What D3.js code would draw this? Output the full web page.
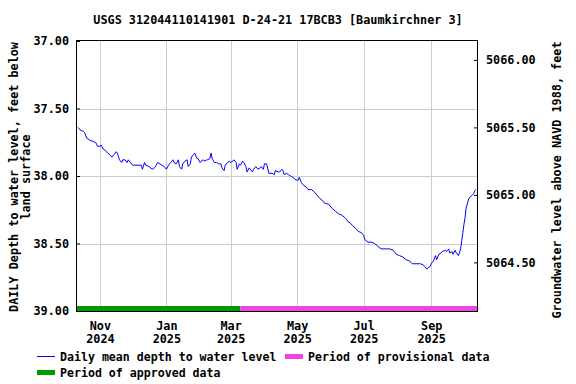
<!DOCTYPE html>
<html>
<head>
<meta charset="utf-8">
<script src="https://cdn.jsdelivr.net/npm/d3@7"></script>
<style>
  body { margin: 0; background: #fff; }
  svg { display: block; }
  text { font-family: "DejaVu Sans Mono", monospace; font-weight: bold; fill: #000; }
</style>
</head>
<body>
<svg width="576" height="384"></svg>
<script>
var title = "USGS 312044110141901 D-24-21 17BCB3 [Baumkirchner 3]";

// daily mean depth to water, feet below land surface
var dates = [
  "2024-10-12","2024-10-14","2024-10-17","2024-10-18","2024-10-20","2024-10-22","2024-10-24","2024-10-25","2024-10-27","2024-10-28",
  "2024-10-30","2024-11-01","2024-11-02","2024-11-04","2024-11-06","2024-11-08","2024-11-10","2024-11-12","2024-11-14","2024-11-16",
  "2024-11-17","2024-11-19","2024-11-21","2024-11-22","2024-11-24","2024-11-26","2024-11-27","2024-11-29","2024-12-01","2024-12-04",
  "2024-12-09","2024-12-10","2024-12-12","2024-12-13","2024-12-16","2024-12-19","2024-12-21","2024-12-22","2024-12-24","2024-12-26",
  "2024-12-28","2024-12-30","2025-01-01","2025-01-03","2025-01-05","2025-01-07","2025-01-08","2025-01-10","2025-01-12","2025-01-13",
  "2025-01-15","2025-01-16","2025-01-18","2025-01-20","2025-01-21","2025-01-23","2025-01-24","2025-01-26","2025-01-27","2025-01-29",
  "2025-01-30","2025-02-01","2025-02-02","2025-02-04","2025-02-05","2025-02-07","2025-02-08","2025-02-10","2025-02-11","2025-02-12",
  "2025-02-14","2025-02-16","2025-02-18","2025-02-20","2025-02-21","2025-02-23","2025-02-24","2025-02-26","2025-02-28","2025-03-01",
  "2025-03-03","2025-03-04","2025-03-06","2025-03-07","2025-03-09","2025-03-10","2025-03-12","2025-03-13","2025-03-15","2025-03-16",
  "2025-03-18","2025-03-19","2025-03-21","2025-03-22","2025-03-24","2025-03-26","2025-03-28","2025-03-29","2025-03-31","2025-04-01",
  "2025-04-03","2025-04-05","2025-04-08","2025-04-10","2025-04-11","2025-04-14","2025-04-15","2025-04-17","2025-04-18","2025-04-19",
  "2025-04-21","2025-04-23","2025-04-25","2025-04-27","2025-04-30","2025-05-02","2025-05-03","2025-05-05","2025-05-07","2025-05-09",
  "2025-05-11","2025-05-14","2025-05-17","2025-05-19","2025-05-21","2025-05-24","2025-05-26","2025-05-30","2025-06-02","2025-06-05",
  "2025-06-08","2025-06-11","2025-06-14","2025-06-17","2025-06-19","2025-06-21","2025-06-24","2025-06-26","2025-06-29","2025-07-01",
  "2025-07-02","2025-07-05","2025-07-08","2025-07-11","2025-07-14","2025-07-17","2025-07-22","2025-07-25","2025-07-28","2025-07-31",
  "2025-08-03","2025-08-06","2025-08-09","2025-08-12","2025-08-15","2025-08-19","2025-08-22","2025-08-25","2025-08-26","2025-08-28",
  "2025-08-29","2025-08-31","2025-09-01","2025-09-03","2025-09-05","2025-09-06","2025-09-08","2025-09-10","2025-09-11","2025-09-14",
  "2025-09-15","2025-09-17","2025-09-18","2025-09-20","2025-09-21","2025-09-23","2025-09-24","2025-09-26","2025-09-28","2025-09-29",
  "2025-09-30","2025-10-01","2025-10-02","2025-10-03","2025-10-05","2025-10-06","2025-10-09","2025-10-10","2025-10-11","2025-10-12"
];
var depths = [
  37.64,37.66,37.67,37.68,37.72,37.73,37.74,37.74,37.75,37.75,
  37.78,37.78,37.77,37.80,37.81,37.83,37.84,37.86,37.84,37.82,
  37.83,37.88,37.90,37.88,37.88,37.90,37.88,37.90,37.92,37.92,
  37.92,37.95,37.90,37.92,37.93,37.95,37.94,37.93,37.90,37.91,
  37.92,37.93,37.95,37.92,37.90,37.88,37.90,37.91,37.88,37.93,
  37.95,37.91,37.89,37.88,37.93,37.91,37.86,37.84,37.83,37.87,
  37.87,37.90,37.89,37.88,37.89,37.88,37.88,37.87,37.83,37.87,
  37.90,37.90,37.91,37.91,37.94,37.96,37.92,37.90,37.89,37.90,
  37.89,37.88,37.90,37.95,37.91,37.92,37.89,37.90,37.93,37.97,
  37.94,37.95,37.97,37.95,37.93,37.95,37.94,37.93,37.95,37.91,
  37.91,37.98,37.98,37.99,37.96,37.97,37.97,37.95,37.96,37.99,
  37.98,37.99,38.00,38.01,38.03,38.03,38.01,38.05,38.07,38.08,
  38.10,38.10,38.12,38.14,38.16,38.18,38.20,38.21,38.24,38.26,
  38.28,38.29,38.31,38.34,38.35,38.37,38.39,38.41,38.42,38.44,
  38.47,38.49,38.49,38.50,38.52,38.54,38.54,38.54,38.55,38.58,
  38.59,38.60,38.62,38.63,38.65,38.65,38.65,38.66,38.67,38.69,
  38.68,38.67,38.65,38.63,38.59,38.62,38.58,38.57,38.56,38.55,
  38.56,38.54,38.57,38.56,38.58,38.55,38.57,38.59,38.54,38.48,
  38.42,38.36,38.31,38.24,38.18,38.16,38.14,38.13,38.11,38.10
];

var xDomain = ["2024-10-11", "2025-10-13"];
var xTickDates = ["2024-11-01", "2025-01-01", "2025-03-01", "2025-05-01", "2025-07-01", "2025-09-01"];
var xTickMonths = ["Nov", "Jan", "Mar", "May", "Jul", "Sep"];
var xTickYears = ["2024", "2025", "2025", "2025", "2025", "2025"];
var depthTicks = [37.0, 37.5, 38.0, 38.5, 39.0];
var elevTicks = [5064.5, 5065.0, 5065.5, 5066.0];
var datumOffset = 5103.14; // land surface elevation, ft above NAVD 1988

var approvedEnd = "2025-03-10";
var periods = [
  {name: "approved", start: xDomain[0], end: approvedEnd, color: "#009900"},
  {name: "provisional", start: approvedEnd, end: xDomain[1], color: "#ee44e0"}
];

var svg = d3.select("svg"),
    margin = {top: 41, right: 99, bottom: 73, left: 77},
    width = svg.attr("width") - margin.left - margin.right,
    height = svg.attr("height") - margin.top - margin.bottom,
    g = svg.append("g").attr("transform", "translate(" + margin.left + "," + margin.top + ")");

var parseDate = d3.timeParse("%Y-%m-%d");

var data = dates.map(function(d, i) { return {date: parseDate(d), depth: depths[i]}; });

var x = d3.scaleTime().domain(xDomain.map(parseDate)).range([0, width]),
    y = d3.scaleLinear().domain([37, 39]).range([0, height]),
    y2 = d3.scaleLinear().domain([datumOffset - 37, datumOffset - 39]).range([0, height]);

// grid
g.append("g").selectAll("line")
  .data(xTickDates)
  .enter().append("line")
    .attr("x1", function(d) { return Math.round(x(parseDate(d))) + 0.5; })
    .attr("x2", function(d) { return Math.round(x(parseDate(d))) + 0.5; })
    .attr("y1", 0).attr("y2", height)
    .attr("stroke", "#cccccc");

g.append("g").selectAll("line")
  .data(depthTicks.slice(1, -1))
  .enter().append("line")
    .attr("x1", 0).attr("x2", width)
    .attr("y1", function(d) { return Math.round(y(d)) + 0.5; })
    .attr("y2", function(d) { return Math.round(y(d)) + 0.5; })
    .attr("stroke", "#cccccc");

// approval periods along the bottom
g.append("g").selectAll("rect")
  .data(periods)
  .enter().append("rect")
    .attr("x", function(d) { return x(parseDate(d.start)); })
    .attr("width", function(d) { return x(parseDate(d.end)) - x(parseDate(d.start)); })
    .attr("y", height - 5)
    .attr("height", 5)
    .attr("fill", function(d) { return d.color; });

var line = d3.line()
    .x(function(d) { return x(d.date); })
    .y(function(d) { return y(d.depth); });

g.append("path")
  .datum(data)
  .attr("d", line)
  .attr("fill", "none")
  .attr("stroke", "#0000ff")
  .attr("stroke-width", 1);

// frame
g.append("rect")
  .attr("x", -0.5).attr("y", -0.5)
  .attr("width", width + 1).attr("height", height + 1)
  .attr("fill", "none")
  .attr("stroke", "#000");

var leftAxis = g.append("g")
  .call(d3.axisLeft(y).tickValues(depthTicks).tickFormat(d3.format(".2f")).tickSize(-3).tickPadding(8));
var rightAxis = g.append("g")
  .attr("transform", "translate(" + width + ",0)")
  .call(d3.axisRight(y2).tickValues(elevTicks).tickFormat(d3.format(".2f")).tickSize(-3).tickPadding(9));
[leftAxis, rightAxis].forEach(function(a) {
  a.select(".domain").remove();
  a.selectAll("text").style("font-size", "11.8px").style("font-family", null);
});

var xAxis = g.append("g")
  .attr("transform", "translate(0," + height + ")")
  .call(d3.axisBottom(x).tickValues(xTickDates.map(parseDate)).tickSize(0).tickFormat(""));
xAxis.select(".domain").remove();
xAxis.selectAll(".tick").append("text")
    .attr("text-anchor", "middle")
    .style("font-size", "11.8px")
    .each(function(d, i) {
      var t = d3.select(this);
      t.append("tspan").attr("x", 0).attr("y", 19).text(xTickMonths[i]);
      t.append("tspan").attr("x", 0).attr("y", 32).text(xTickYears[i]);
    });

// title and axis labels
svg.append("text")
  .attr("x", margin.left + width / 2 + 1).attr("y", 24)
  .attr("text-anchor", "middle")
  .style("font-size", "11.8px")
  .text(title);

var yl = svg.append("text")
  .attr("transform", "translate(14,177) rotate(-90)")
  .attr("text-anchor", "middle")
  .style("font-size", "11.8px");
yl.append("tspan").attr("x", 0).attr("y", 4).text("DAILY Depth to water level, feet below");
yl.append("tspan").attr("x", 0).attr("y", 16).text("land surface");

svg.append("text")
  .attr("transform", "translate(557,180) rotate(-90)")
  .attr("text-anchor", "middle")
  .attr("dy", "0.35em")
  .style("font-size", "11.8px")
  .text("Groundwater level above NAVD 1988, feet");

// legend
var legend = svg.append("g").style("font-size", "11.6px");
legend.append("line")
  .attr("x1", 37).attr("x2", 55).attr("y1", 356.5).attr("y2", 356.5)
  .attr("stroke", "#0000ff");
legend.append("text").attr("x", 60).attr("y", 361).text("Daily mean depth to water level");
legend.append("rect")
  .attr("x", 285).attr("y", 354).attr("width", 18).attr("height", 5)
  .attr("fill", periods[1].color);
legend.append("text").attr("x", 308).attr("y", 361).text("Period of provisional data");
legend.append("rect")
  .attr("x", 37).attr("y", 370).attr("width", 18).attr("height", 5)
  .attr("fill", periods[0].color);
legend.append("text").attr("x", 60).attr("y", 377).text("Period of approved data");
</script>
</body>
</html>
